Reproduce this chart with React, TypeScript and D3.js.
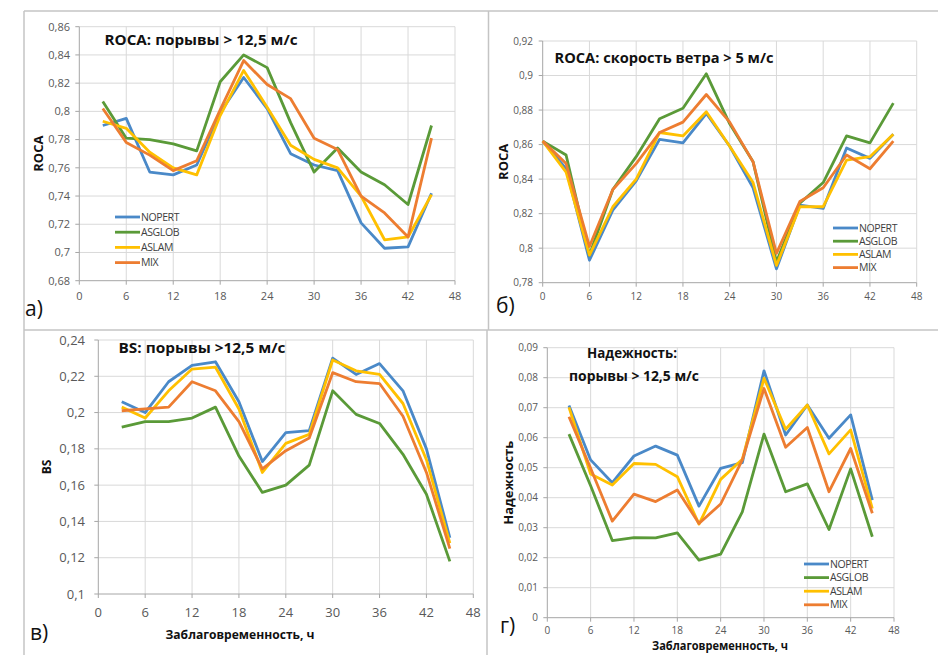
import React from "react";
import * as d3 from "d3";

// ---------- data ----------
const HOURS = [3, 6, 9, 12, 15, 18, 21, 24, 27, 30, 33, 36, 39, 42, 45];
const HOURS_B = [0, 3, 6, 9, 12, 15, 18, 21, 24, 27, 30, 33, 36, 39, 42, 45];
const SERIES = ["NOPERT", "ASGLOB", "ASLAM", "MIX"];
const X_TICKS = [0, 6, 12, 18, 24, 30, 36, 42, 48];

const A_NOPERT = [0.790, 0.795, 0.757, 0.755, 0.762, 0.799, 0.824, 0.802, 0.770, 0.762, 0.758, 0.721, 0.703, 0.704, 0.742];
const A_ASGLOB = [0.807, 0.781, 0.780, 0.777, 0.772, 0.821, 0.840, 0.831, 0.792, 0.757, 0.774, 0.757, 0.748, 0.734, 0.790];
const A_ASLAM = [0.793, 0.788, 0.771, 0.760, 0.755, 0.797, 0.829, 0.803, 0.776, 0.766, 0.760, 0.740, 0.709, 0.711, 0.741];
const A_MIX = [0.802, 0.778, 0.769, 0.758, 0.765, 0.801, 0.836, 0.819, 0.809, 0.781, 0.773, 0.740, 0.728, 0.711, 0.781];
const A_Y_TICKS = [0.68, 0.7, 0.72, 0.74, 0.76, 0.78, 0.8, 0.82, 0.84, 0.86];

const B_NOPERT = [0.862, 0.846, 0.793, 0.822, 0.839, 0.863, 0.861, 0.878, 0.859, 0.835, 0.788, 0.825, 0.823, 0.858, 0.852, 0.866];
const B_ASGLOB = [0.862, 0.854, 0.796, 0.834, 0.853, 0.875, 0.881, 0.901, 0.872, 0.850, 0.792, 0.826, 0.838, 0.865, 0.861, 0.884];
const B_ASLAM = [0.862, 0.844, 0.796, 0.824, 0.840, 0.867, 0.865, 0.879, 0.859, 0.838, 0.790, 0.824, 0.824, 0.851, 0.853, 0.866];
const B_MIX = [0.862, 0.849, 0.801, 0.834, 0.849, 0.867, 0.873, 0.889, 0.873, 0.850, 0.797, 0.827, 0.835, 0.854, 0.846, 0.862];
const B_Y_TICKS = [0.78, 0.8, 0.82, 0.84, 0.86, 0.88, 0.9, 0.92];

const C_NOPERT = [0.206, 0.200, 0.217, 0.226, 0.228, 0.206, 0.173, 0.189, 0.190, 0.230, 0.221, 0.227, 0.212, 0.180, 0.131];
const C_ASGLOB = [0.192, 0.195, 0.195, 0.197, 0.203, 0.176, 0.156, 0.160, 0.171, 0.212, 0.199, 0.194, 0.177, 0.155, 0.118];
const C_ASLAM = [0.203, 0.197, 0.212, 0.224, 0.225, 0.202, 0.167, 0.183, 0.188, 0.229, 0.223, 0.221, 0.205, 0.174, 0.128];
const C_MIX = [0.201, 0.202, 0.203, 0.217, 0.212, 0.195, 0.169, 0.179, 0.186, 0.222, 0.217, 0.216, 0.198, 0.167, 0.125];
const C_Y_TICKS = [0.1, 0.12, 0.14, 0.16, 0.18, 0.2, 0.22, 0.24];

const D_NOPERT = [0.0707, 0.0526, 0.0450, 0.0539, 0.0572, 0.0542, 0.0372, 0.0498, 0.0517, 0.0823, 0.0609, 0.0709, 0.0598, 0.0676, 0.0392];
const D_ASGLOB = [0.0612, 0.0440, 0.0257, 0.0267, 0.0266, 0.0283, 0.0192, 0.0212, 0.0353, 0.0612, 0.0420, 0.0446, 0.0294, 0.0496, 0.0270];
const D_ASLAM = [0.0701, 0.0479, 0.0442, 0.0514, 0.0511, 0.0470, 0.0312, 0.0461, 0.0528, 0.0798, 0.0628, 0.0709, 0.0546, 0.0626, 0.0364];
const D_MIX = [0.0670, 0.0498, 0.0322, 0.0412, 0.0387, 0.0426, 0.0314, 0.0379, 0.0526, 0.0764, 0.0568, 0.0634, 0.0420, 0.0564, 0.0348];
const D_Y_TICKS = [0, 0.01, 0.02, 0.03, 0.04, 0.05, 0.06, 0.07, 0.08, 0.09];

const TITLE_A = "ROCA: порывы > 12,5 м/с";
const TITLE_B = "ROCA: скорость ветра > 5 м/с";
const TITLE_C = "BS: порывы >12,5 м/с";
const TITLE_D1 = "Надежность:";
const TITLE_D2 = "порывы > 12,5 м/с";
const X_TITLE = "Заблаговременность, ч";

// ---------- styles ----------
const COLORS = ["#4a89c8", "#5a9a38", "#ffc000", "#ed7d31"];
const FONT = "'Open Sans', 'Noto Sans', sans-serif";
const GRID = "#d9d9d9";
const AXIS = "#a6a6a6";
const LABEL = "#595959";
const FRAME = "#c4c4c4";

const fmt = (v: number) => String(+v.toFixed(3)).replace(".", ",");

type PanelProps = {
  xs: number[];
  series: number[][];
  yTicks: number[];
  x0: number; x1: number; yTop: number; yBot: number;
  tickFont: number;
  yTitle: string; yTitleX: number; yTitleFont: number;
  xTitle?: { x: number; y: number; size: number; len: number };
  legend?: { x: number; y: number; dy: number; size: number };
  xLabelY: number;
  yLabelX: number;
};

function Panel(p: PanelProps) {
  const x = d3.scaleLinear().domain([0, 48]).range([p.x0, p.x1]);
  const y = d3.scaleLinear().domain([p.yTicks[0], p.yTicks[p.yTicks.length - 1]]).range([p.yBot, p.yTop]);
  const line = d3.line<number>().x((_, i) => x(p.xs[i])).y((d) => y(d));
  const yMid = (p.yTop + p.yBot) / 2;
  return (
    <g>
      {p.yTicks.slice(1).map((t) => (
        <line key={"gy" + t} x1={p.x0} x2={p.x1} y1={y(t)} y2={y(t)} stroke={GRID} strokeWidth={1} />
      ))}
      {X_TICKS.slice(1).map((t) => (
        <line key={"gx" + t} x1={x(t)} x2={x(t)} y1={p.yTop} y2={p.yBot} stroke={GRID} strokeWidth={1} />
      ))}
      <line x1={p.x0} x2={p.x0} y1={p.yTop} y2={p.yBot} stroke={AXIS} strokeWidth={1} />
      <line x1={p.x0} x2={p.x1} y1={p.yBot} y2={p.yBot} stroke={AXIS} strokeWidth={1} />
      {p.yTicks.map((t) => (
        <line key={"ty" + t} x1={p.x0 - 4} x2={p.x0} y1={y(t)} y2={y(t)} stroke={AXIS} strokeWidth={1} />
      ))}
      {X_TICKS.map((t) => (
        <line key={"tx" + t} x1={x(t)} x2={x(t)} y1={p.yBot} y2={p.yBot + 4} stroke={AXIS} strokeWidth={1} />
      ))}
      {p.yTicks.map((t) => (
        <text key={"ly" + t} x={p.yLabelX} y={y(t)} dy="0.35em" textAnchor="end" fontSize={p.tickFont} fill={LABEL} fontFamily={FONT}>
          {fmt(t)}
        </text>
      ))}
      {X_TICKS.map((t) => (
        <text key={"lx" + t} x={x(t)} y={p.xLabelY} dy="0.35em" textAnchor="middle" fontSize={p.tickFont} fill={LABEL} fontFamily={FONT}>
          {t}
        </text>
      ))}
      {p.series.map((s, i) => (
        <path key={"s" + i} d={line(s) || ""} fill="none" stroke={COLORS[i]} strokeWidth={2.8} strokeLinejoin="round" />
      ))}
      <text
        transform={`translate(${p.yTitleX},${yMid}) rotate(-90)`}
        textAnchor="middle"
        dy="0.35em"
        fontSize={p.yTitleFont}
        fontWeight="bold"
        fill="#111"
        fontFamily={FONT}
      >
        {p.yTitle}
      </text>
      {p.xTitle && (
        <text x={p.xTitle.x} y={p.xTitle.y} dy="0.35em" textAnchor="middle" fontSize={p.xTitle.size} fontWeight="bold" fill="#111" fontFamily={FONT} textLength={p.xTitle.len} lengthAdjust="spacingAndGlyphs">
          {X_TITLE}
        </text>
      )}
      {p.legend &&
        SERIES.map((name, i) => {
          const ly = p.legend!.y + i * p.legend!.dy;
          return (
            <g key={name}>
              <line x1={p.legend!.x} x2={p.legend!.x + 25} y1={ly} y2={ly} stroke={COLORS[i]} strokeWidth={2.8} />
              <text x={p.legend!.x + 26} y={ly} dy="0.35em" fontSize={p.legend!.size} fill="#404040" fontFamily={FONT} letterSpacing={-0.4}>
                {name}
              </text>
            </g>
          );
        })}
    </g>
  );
}

function Title({ x, y, text, size, len }: { x: number; y: number; text: string; size: number; len: number }) {
  return (
    <text x={x} y={y} dy="0.35em" textAnchor="middle" fontSize={size} fontWeight="bold" fill="#111" fontFamily={FONT} textLength={len} lengthAdjust="spacingAndGlyphs">
      {text}
    </text>
  );
}

function PanelLetter({ x, y, text }: { x: number; y: number; text: string }) {
  return (
    <text x={x} y={y} fontSize={21} fill="#111" fontFamily={FONT}>
      {text}
    </text>
  );
}

export default function App() {
  return (
    <svg width={938} height={655} style={{ position: "absolute", left: 0, top: 0, background: "#fff" }}>
      <rect x={0} y={0} width={938} height={655} fill="#fff" />
      {/* frames */}
      <line x1={24} x2={938} y1={11} y2={11} stroke={FRAME} strokeWidth={1.5} />
      <line x1={24} x2={938} y1={330} y2={330} stroke={FRAME} strokeWidth={1.5} />
      <line x1={24} x2={24} y1={11} y2={655} stroke={FRAME} strokeWidth={1.5} />
      <line x1={488.5} x2={488.5} y1={11} y2={330} stroke={FRAME} strokeWidth={1.5} />
      <line x1={487} x2={487} y1={330} y2={655} stroke={FRAME} strokeWidth={1.5} />

      {/* а) */}
      <Panel
        xs={HOURS}
        series={[A_NOPERT, A_ASGLOB, A_ASLAM, A_MIX]}
        yTicks={A_Y_TICKS}
        x0={79.3} x1={455} yTop={26.7} yBot={280.7}
        tickFont={11}
        yTitle="ROCA" yTitleX={38} yTitleFont={13}
        legend={{ x: 115, y: 217, dy: 15.2, size: 10.5 }}
        xLabelY={296}
        yLabelX={70}
      />
      <Title x={201} y={40} text={TITLE_A} size={14} len={193} />
      <PanelLetter x={25} y={316} text="а)" />

      {/* б) */}
      <Panel
        xs={HOURS_B}
        series={[B_NOPERT, B_ASGLOB, B_ASLAM, B_MIX]}
        yTicks={B_Y_TICKS}
        x0={542.7} x1={916.7} yTop={41} yBot={282.7}
        tickFont={10}
        yTitle="ROCA" yTitleX={503} yTitleFont={13}
        legend={{ x: 833, y: 228, dy: 13.2, size: 10.5 }}
        xLabelY={296}
        yLabelX={533}
      />
      <Title x={664} y={58} text={TITLE_B} size={14} len={219} />
      <PanelLetter x={496} y={313} text="б)" />

      {/* в) */}
      <Panel
        xs={HOURS}
        series={[C_NOPERT, C_ASGLOB, C_ASLAM, C_MIX]}
        yTicks={C_Y_TICKS}
        x0={98.3} x1={473.3} yTop={340} yBot={594}
        tickFont={13}
        yTitle="BS" yTitleX={47} yTitleFont={12}
        xTitle={{ x: 240, y: 634, size: 13, len: 149 }}
        xLabelY={612}
        yLabelX={85}
      />
      <Title x={202} y={348} text={TITLE_C} size={14} len={167} />
      <PanelLetter x={30} y={640} text="в)" />

      {/* г) */}
      <Panel
        xs={HOURS}
        series={[D_NOPERT, D_ASGLOB, D_ASLAM, D_MIX]}
        yTicks={D_Y_TICKS}
        x0={547.3} x1={894} yTop={347.7} yBot={617.7}
        tickFont={10}
        yTitle="Надежность" yTitleX={508} yTitleFont={13}
        xTitle={{ x: 720, y: 646, size: 12, len: 136 }}
        legend={{ x: 804, y: 564, dy: 13.6, size: 10.5 }}
        xLabelY={630}
        yLabelX={538}
      />
      <Title x={632} y={353} text={TITLE_D1} size={14} len={90} />
      <Title x={634} y={376} text={TITLE_D2} size={14} len={130} />
      <PanelLetter x={500} y={633} text="г)" />
    </svg>
  );
}
